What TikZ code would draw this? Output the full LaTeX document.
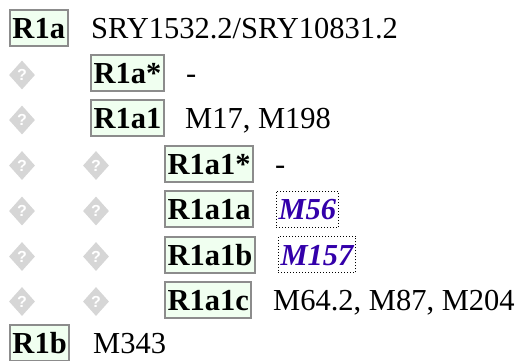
\documentclass[tikz,border=0pt]{standalone}
\usepackage{fontspec}
\setmainfont{Liberation Serif}
\newfontfamily\qfont{Liberation Sans}
\usetikzlibrary{shapes.geometric}
\definecolor{boxfill}{RGB}{240,255,240}
\definecolor{boxline}{RGB}{140,140,140}
\definecolor{snpblue}{RGB}{51,0,170}
\definecolor{qgray}{RGB}{214,214,214}
\begin{document}
\begin{tikzpicture}[x=1pt,y=-1pt,
 hg/.style={draw=boxline, line width=2pt, fill=boxfill, font=\fontsize{30.5}{36}\selectfont\bfseries, inner xsep=2.5pt, inner ysep=0pt, minimum height=36pt, text height=21pt, text depth=0pt, anchor=west},
 snp/.style={font=\fontsize{30.5}{36}\selectfont, inner sep=0pt, anchor=base west},
 isnp/.style={draw=black, dotted, line width=1pt, text=snpblue, font=\fontsize{30.5}{36}\selectfont\bfseries\itshape, inner xsep=2.5pt, inner ysep=0pt, minimum height=36pt, text height=21pt, text depth=0pt, anchor=west},
 unk/.style={diamond, fill=qgray, inner sep=0pt, minimum width=26pt, minimum height=29pt, text=white, font=\qfont\bfseries\fontsize{16}{16}\selectfont}]
\useasboundingbox (0,0) rectangle (516,360);
% row 1
\node[hg] (h1) at (9,28) {R1a};
\node[snp] (t1) at (91,38.5) {SRY1532.2/SRY10831.2};
% row 2
\node[unk] (u21) at (22,75) {?};
\node[hg] (h2) at (90,73) {R1a*};
\node[snp] (t2) at (186,83.5) {-};
% row 3
\node[unk] (u31) at (22,120) {?};
\node[hg] (h3) at (90,118) {R1a1};
\node[snp] (t3) at (185,128.5) {M17, M198};
% row 4
\node[unk] (u41) at (22,165.5) {?};
\node[unk] (u42) at (96,165.5) {?};
\node[hg] (h4) at (164,163.5) {R1a1*};
\node[snp] (t4) at (275,174) {-};
% row 5
\node[unk] (u51) at (22,211) {?};
\node[unk] (u52) at (96,211) {?};
\node[hg] (h5) at (164,209) {R1a1a};
\node[isnp] (t5) at (275.5,209) {M56};
% row 6
\node[unk] (u61) at (22,256.5) {?};
\node[unk] (u62) at (96,256.5) {?};
\node[hg] (h6) at (164,254.5) {R1a1b};
\node[isnp] (t6) at (277.5,254.5) {M157};
% row 7
\node[unk] (u71) at (22,301.5) {?};
\node[unk] (u72) at (96,301.5) {?};
\node[hg] (h7) at (164,299.5) {R1a1c};
\node[snp] (t7) at (273,310) {M64.2, M87, M204};
% row 8
\node[hg] (h8) at (9,342.5) {R1b};
\node[snp] (t8) at (93,353) {M343};
\end{tikzpicture}
\end{document}
